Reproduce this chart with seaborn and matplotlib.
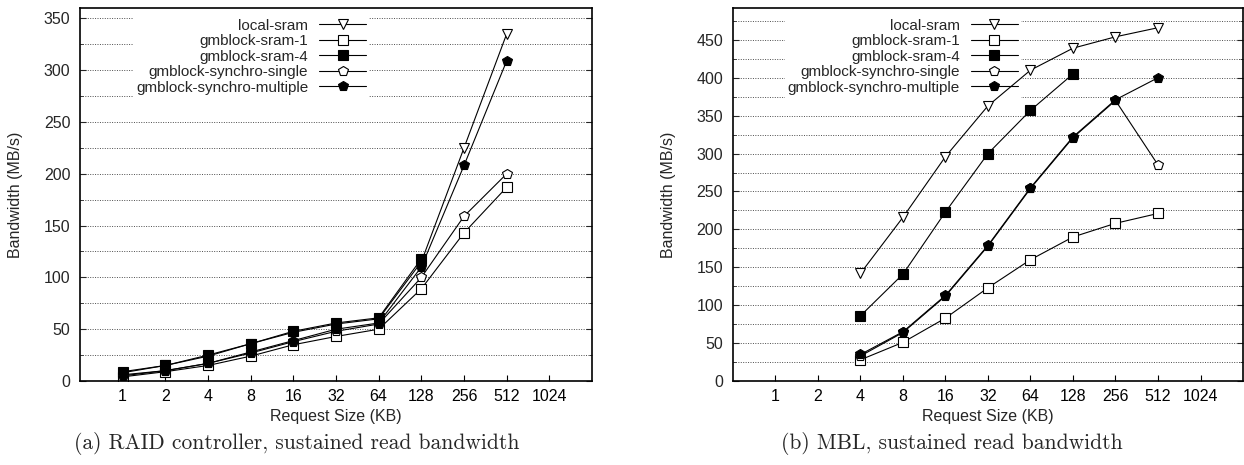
import matplotlib
matplotlib.use('Agg')
import matplotlib.pyplot as plt
import seaborn as sns
from matplotlib.ticker import MultipleLocator, NullLocator

## data
sizes = [1, 2, 4, 8, 16, 32, 64, 128, 256, 512]
size_ticks = [1, 2, 4, 8, 16, 32, 64, 128, 256, 512, 1024]
series_names = ['local-sram', 'gmblock-sram-1', 'gmblock-sram-4',
                'gmblock-synchro-single', 'gmblock-synchro-multiple']

# (a) RAID controller
raid_local = [8, 15, 24, 36, 47, 55, 60, 115, 225, 335]
raid_sram1 = [4, 9, 15, 24, 35, 43, 50, 89, 143, 187]
raid_sram4 = [9, 15, 25, 36, 48, 56, 61, 118]
raid_single = [5, 10, 17, 27, 38, 48, 55, 100, 159, 200]
raid_multi = [6, 10, 17, 28, 39, 50, 56, 110, 208, 309]

# (b) MBL
mbl_sizes = [4, 8, 16, 32, 64, 128, 256, 512]
mbl_local = [142, 216, 296, 363, 410, 439, 454, 466]
mbl_sram1 = [28, 51, 83, 123, 160, 190, 208, 221]
mbl_sram4 = [86, 141, 223, 300, 357, 405]
mbl_single = [33, 64, 112, 178, 254, 321, 370, 285]
mbl_multi = [35, 65, 113, 179, 255, 322, 371, 400]

sns.set_theme(style='white')
plt.rcParams['font.family'] = ['Liberation Sans', 'DejaVu Sans']

# marker style per series: (marker, face colour, size)
styles = {
    'local-sram': ('v', 'white', 7.5),
    'gmblock-sram-1': ('s', 'white', 7),
    'gmblock-sram-4': ('s', 'black', 7),
    'gmblock-synchro-single': ('p', 'white', 7),
    'gmblock-synchro-multiple': ('p', 'black', 7),
}

fig = plt.figure(figsize=(12.44, 4.65), dpi=100)
ax1 = fig.add_axes([0.0643, 0.1806, 0.4116, 0.8022])
ax2 = fig.add_axes([0.5892, 0.1806, 0.4100, 0.8022])


def draw(ax, xs_list, ys_list, ymax):
    for name, xs, ys in zip(series_names, xs_list, ys_list):
        m, fc, ms = styles[name]
        sns.lineplot(x=xs[:len(ys)], y=ys, ax=ax, color='black', linewidth=0.8,
                     marker=m, markersize=ms, markerfacecolor=fc,
                     markeredgecolor='black', markeredgewidth=0.8, label=name)
    ax.set_xscale('log', base=2)
    ax.set_xlim(0.5, 2048)
    ax.set_xticks(size_ticks)
    ax.set_xticklabels([str(s) for s in size_ticks])
    ax.xaxis.set_minor_locator(NullLocator())
    ax.set_ylim(0, ymax)
    ax.yaxis.set_major_locator(MultipleLocator(50))
    ax.yaxis.set_minor_locator(MultipleLocator(25))
    ax.grid(True, axis='y', which='both', linestyle=(0, (1, 1.5)),
            linewidth=0.7, color='0.3')
    ax.tick_params(axis='x', which='major', direction='in', length=4,
                   width=0.8, bottom=True, top=False, labelsize=11.5, pad=6, colors='black')
    ax.tick_params(axis='y', which='major', direction='in', length=4.5,
                   width=0.8, left=True, right=True, labelsize=11.5, pad=7)
    ax.tick_params(axis='y', which='minor', direction='in', length=2.5,
                   width=0.6, left=True, right=True)
    for sp in ax.spines.values():
        sp.set_visible(True)
        sp.set_color('black')
        sp.set_linewidth(1.2)
    ax.set_xlabel('Request Size (KB)', fontsize=11.5, labelpad=3.5)
    ax.set_ylabel('Bandwidth (MB/s)', fontsize=11.5, labelpad=15)
    leg = ax.legend(loc='upper right', bbox_to_anchor=(0.58, 1.0),
                    markerfirst=False, fontsize=11, handlelength=3.1,
                    handletextpad=0.7, labelspacing=0.1, borderpad=0.2,
                    frameon=True, fancybox=False)
    leg.get_frame().set_facecolor('white')
    leg.get_frame().set_edgecolor('none')
    leg.get_frame().set_alpha(1)
    # key box hides the grid but the curves run over it
    leg.set_zorder(1)


draw(ax1, [sizes] * 5,
     [raid_local, raid_sram1, raid_sram4, raid_single, raid_multi], 360)
draw(ax2, [mbl_sizes] * 5,
     [mbl_local, mbl_sram1, mbl_sram4, mbl_single, mbl_multi], 492)

cap_font = dict(fontsize=15.5, family=['cmr10', 'DejaVu Serif'], ha='center', va='center')
fig.text(297 / 1244, 1 - 443 / 465, '(a) RAID controller, sustained read bandwidth', **cap_font)
fig.text(952 / 1244, 1 - 443 / 465, '(b) MBL, sustained read bandwidth', **cap_font)

fig.savefig('out.png', dpi=100)
